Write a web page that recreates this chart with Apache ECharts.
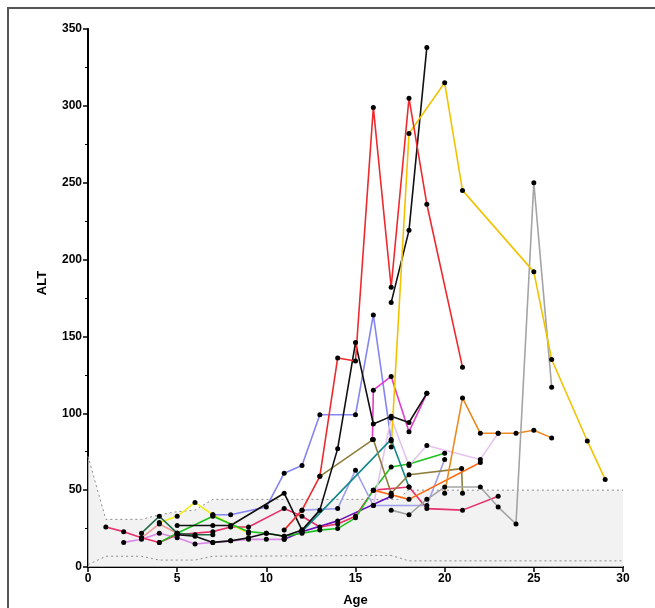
<!DOCTYPE html>
<html><head><meta charset="utf-8">
<script src="https://cdn.jsdelivr.net/npm/echarts@6/dist/echarts.min.js"></script>
<style>html,body{margin:0;padding:0;background:#fff}#c{width:655px;height:608px}</style>
</head><body><div id="c"></div>
<script>
// axis ranges / ticks
const xMin = 0, xMax = 30, xStep = 5;
const yMin = 0, yMax = 350, yStep = 50;

// reference band (upper / lower limits)
const bandUpper = [[0,72],[1,31],[3,31],[4,34],[5,36],[6,37],[7,44],[17.5,44],[17.9,50],[30,50]];
const bandLower = [[0,1.5],[1,7],[3,7],[4,4.5],[6,4.5],[7,7],[17,7.5],[18,4],[30,4]];

// patients: [age, ALT]
const orchid   = [[2,16],[3,18],[4,22],[5,19],[6,15],[7,16],[8,17],[9,18],[10,18],[11,18]];
const purple   = [[11,18],[12,23],[14,30],[17,46]];
const crimson  = [[1,26],[2,23],[3,19],[4,16],[5,21],[7,23],[8,26],[9,26],[11,38],[12,33],[13,26],[14,28],[15,33],[16,50],[18,52],[19,38],[21,37],[23,46]];
const salmon   = [[3,19],[4,28],[5,22]];
const yellow   = [[4,29],[5,33],[6,42],[7,34],[9,22]];
const darkGreen= [[3,22],[4,33],[5,22],[6,21],[7,21]];
const green    = [[4,16],[5,22],[7,33],[9,23],[10,22],[11,20],[12,22],[13,24],[14,25],[15,32],[16,50],[17,65],[18,67],[20,74]];
const blackD   = [[5,21],[6,20],[7,16],[8,17],[9,19],[10,22],[11,20],[12,24]];
const blackB   = [[5,27],[7,27],[8,27],[11,48],[12,24],[13,37],[14,77],[15,146],[16,93],[17,98],[18,94],[19,113]];
const lavender = [[7,34],[8,34],[10,39],[11,61],[12,66],[13,99],[15,99],[16,164],[17,82]];
const blueB    = [[12,37],[14,38],[15,63],[16,40],[19,40],[20,70]];
const thistle  = [[16,40],[17,97],[18,66],[19,79],[22,70],[23,87]];
const magenta  = [[15.95,83],[16,115],[17,124],[18,88],[19,113]];
const olive    = [[13,59],[16,83],[17,48],[18,60],[20.95,64],[21,48]];
const teal     = [[12,23],[17,83],[18,52]];
const orangeB  = [[16,50],[17,47],[18,44],[22,68]];
const orangeA  = [[20,48],[21,110],[22,87],[23,87],[24,87],[25,89],[26,84]];
const grayA    = [[17,37],[18,34],[19,44],[20,52],[22,52],[23,39],[24,28],[25,250],[26,117]];
const blackTall= [[17,172],[18,219],[19,338]];
const gold     = [[17,78],[18,282],[20,315],[21,245],[25,192],[26,135],[28,82],[29,57]];
const redA     = [[11,24],[12,37],[13,59],[14,136],[15,134],[16,299],[17,182],[18,305],[19,236],[21,130]];

const patients = [
  [orchid,'#d889e6'],[purple,'#6a10b8'],[crimson,'#e8306a'],[salmon,'#f29a9a'],
  [yellow,'#f2ee1c'],[darkGreen,'#1f6d47'],[green,'#1ec21e'],[blackD,'#111111'],
  [lavender,'#8484f2'],[blueB,'#a0a0ec'],[thistle,'#e4c4ee'],[teal,'#13898c'],
  [olive,'#8f7e3c'],[orangeB,'#ff6a10'],[orangeA,'#ec8a20'],[grayA,'#a4a4a4'],
  [magenta,'#e23ec8'],[blackB,'#111111'],[blackTall,'#111111'],[gold,'#f2c200'],[redA,'#ee2a2e']
];

const font = 'Liberation Sans, Arial, sans-serif';
const series = [
  {type:'line', data:bandUpper, symbol:'none', silent:true, z:1,
   lineStyle:{color:'#8a8a8a', width:1, type:[2,3]}, areaStyle:{color:'#ececec', origin:'start'}},
  {type:'line', data:bandLower, symbol:'none', silent:true, z:1,
   lineStyle:{color:'#8a8a8a', width:1, type:[2,3]}}
];
patients.forEach(function(p){
  series.push({type:'line', data:p[0], symbol:'circle', symbolSize:5, z:3,
    itemStyle:{color:'#000'}, lineStyle:{color:p[1], width:1.6}});
});

const chart = echarts.init(document.getElementById('c'));
chart.setOption({
  animation:false,
  grid:{left:88, right:32, top:29, bottom:41, containLabel:false, outerBoundsMode:'none'},
  graphic:[
    {type:'rect', shape:{x:8, y:8, width:700, height:700}, style:{fill:'none', stroke:'#555', lineWidth:2}, z:-1},
    {type:'text', x:42, y:283, rotation:Math.PI/2,
     style:{text:'ALT', fill:'#000', font:'bold 13px ' + font, align:'center', verticalAlign:'middle'}}
  ],
  xAxis:{type:'value', min:xMin, max:xMax, interval:xStep,
    name:'Age', nameLocation:'middle', nameGap:27,
    nameTextStyle:{color:'#000', fontWeight:'bold', fontSize:13, fontFamily:font},
    axisLine:{lineStyle:{color:'#000', width:2}},
    axisTick:{length:5, lineStyle:{color:'#000', width:1.5}},
    axisLabel:{color:'#000', fontWeight:'bold', fontSize:12, fontFamily:font, margin:6},
    splitLine:{show:false}},
  yAxis:{type:'value', min:yMin, max:yMax, interval:yStep,
    axisLine:{show:true, lineStyle:{color:'#000', width:2}},
    axisTick:{show:true, length:5, lineStyle:{color:'#000', width:1.5}},
    minorTick:{show:true, splitNumber:2, length:3, lineStyle:{color:'#000', width:1}},
    axisLabel:{color:'#000', fontWeight:'bold', fontSize:12, fontFamily:font, margin:6},
    splitLine:{show:false}},
  series:series
});
</script></body></html>
